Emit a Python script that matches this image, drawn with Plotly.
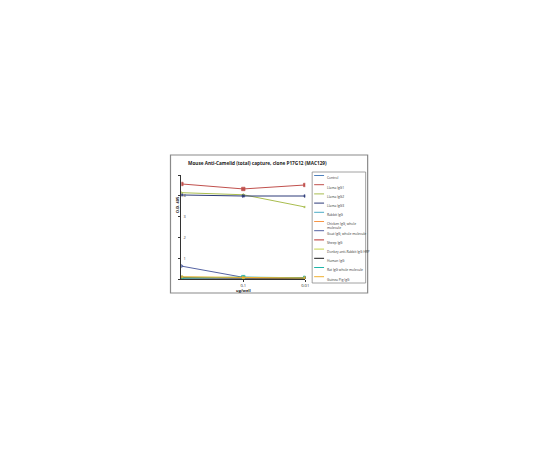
import plotly.graph_objects as go

W, H = 540, 450
OFF = 8  # page body margin shifts the figure by this many pixels

# ELISA capture data, O.D. 405 vs ug/well
conc = [1, 0.1, 0.01]
tick_text = ["1", "0.1", "0.01"]

series_names = [
    "Control", "Llama IgG1", "Llama IgG2", "Llama IgG3", "Rabbit IgG",
    "Chicken IgG, whole<br>molecule", "Goat IgG, whole molecule", "Sheep IgG",
    "Donkey anti-Rabbit IgG HRP", "Human IgG", "Rat IgG whole molecule",
    "Guinea Pig IgG",
]
control = [0.05, 0.05, 0.05]
llama_igg1 = [4.57, 4.33, 4.52]
llama_igg2 = [4.15, 4.05, 3.46]
llama_igg3 = [4.04, 3.99, 3.99]
rabbit_igg = [0.06, 0.05, 0.05]
chicken_igg = [0.07, 0.05, 0.05]
goat_igg = [0.62, 0.08, 0.05]
sheep_igg = [0.08, 0.06, 0.05]
donkey_hrp = [0.09, 0.06, 0.05]
human_igg = [0.06, 0.05, 0.05]
rat_igg = [0.05, 0.09, 0.06]
guinea_igg = [0.1, 0.06, 0.05]

series_values = [control, llama_igg1, llama_igg2, llama_igg3, rabbit_igg,
                 chicken_igg, goat_igg, sheep_igg, donkey_hrp, human_igg,
                 rat_igg, guinea_igg]

colors = ["#4F81BD", "#C0504D", "#A9BD4F", "#2C3A78", "#4BACC6", "#F79646",
          "#5563A3", "#B8312F", "#C4D34B", "#1A1A1A", "#1FB5A8", "#F0B030"]
symbols = ["diamond", "square", "triangle-up", "x", "asterisk", "circle",
           "cross", "line-ew", "diamond", "x", "square", "x"]


def px(x):
    return (x - OFF) / W


def py(y):
    return 1 - (y - OFF) / H


fig = go.Figure()
for name, vals, col, sym in zip(series_names, series_values, colors, symbols):
    fig.add_trace(go.Scatter(
        x=conc, y=vals, name=name.replace("<br>", " "), mode="lines+markers",
        line=dict(color=col, width=1),
        marker=dict(symbol=sym, size=3.5 if sym == "square" else 2.5, color=col,
                    line=dict(color=col, width=0.6)),
        showlegend=False,
    ))

FONT = "Open Sans"

fig.update_layout(
    width=W, height=H,
    margin=dict(l=0, r=0, t=0, b=0),
    paper_bgcolor="white",
    plot_bgcolor="white",
    font=dict(family=FONT, size=4, color="#222"),
    xaxis=dict(
        type="log", range=[0, -2], domain=[px(182), px(307)],
        tickvals=conc, ticktext=tick_text, showgrid=False, zeroline=False,
        showline=True, linecolor="#333", linewidth=1,
        ticks="outside", ticklen=2, tickcolor="#333",
        tickfont=dict(size=4, family=FONT),
        anchor="y",
    ),
    yaxis=dict(
        range=[0, 5], domain=[py(279), py(175)],
        tickvals=[0, 1, 2, 3, 4, 5], ticktext=["", "1", "2", "3", "4", "5"],
        showgrid=False, zeroline=False,
        showline=True, linecolor="#333", linewidth=1,
        ticks="outside", ticklen=2, tickcolor="#333",
        ticklabelposition="inside", tickfont=dict(size=4, family=FONT),
        anchor="x",
    ),
)

shapes = [
    # outer chart frame
    dict(type="rect", xref="paper", yref="paper",
         x0=px(171), x1=px(370), y0=py(293), y1=py(155),
         line=dict(color="#8a8a8a", width=1.2), fillcolor="rgba(0,0,0,0)"),
    # legend box
    dict(type="rect", xref="paper", yref="paper",
         x0=px(314), x1=px(368), y0=py(283), y1=py(172),
         line=dict(color="#8a8a8a", width=0.8), fillcolor="white"),
]
annotations = [
    dict(text="<b>Mouse Anti-Camelid (total) capture, clone P17G12 (MAC129)</b>",
         x=px(259), y=py(163), xref="paper", yref="paper", showarrow=False,
         font=dict(size=4.7, family=FONT, color="#222")),
    dict(text="<b>O.D. 405</b>", x=px(174), y=py(204), xref="paper", yref="paper",
         showarrow=False, textangle=-90, font=dict(size=4, family=FONT)),
    dict(text="<b>ug/well</b>", x=px(245), y=py(290), xref="paper", yref="paper",
         showarrow=False, font=dict(size=4, family=FONT)),
]

# hand-built legend (plotly's own legend rows are too tall at this scale)
for i, (name, col, sym) in enumerate(zip(series_names, colors, symbols)):
    yy = 175.5 + i * 9.2
    shapes.append(dict(type="line", xref="paper", yref="paper",
                       x0=px(316), x1=px(326), y0=py(yy), y1=py(yy),
                       line=dict(color=col, width=1)))
    annotations.append(dict(text=name, x=px(327), y=py(yy - 2.1), xref="paper",
                            yref="paper", xanchor="left", yanchor="top",
                            align="left", showarrow=False,
                            font=dict(size=3.3, family=FONT, color="#333")))

fig.update_layout(shapes=shapes, annotations=annotations)

fig.write_html("out.html")
